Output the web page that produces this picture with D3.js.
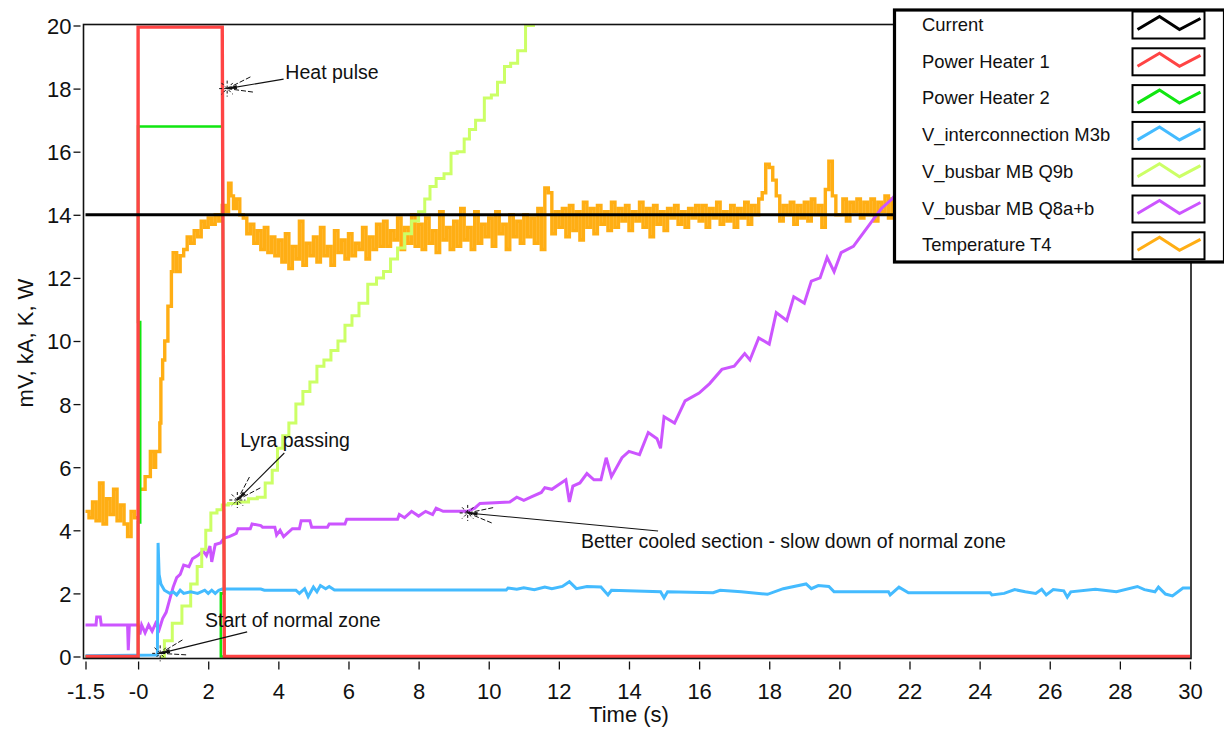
<!DOCTYPE html>
<html lang="en">
<head>
    <meta charset="UTF-8">
    <title>Heat pulse quench</title>
    <style>
        body { margin: 0; background: #fff; }
        svg { display: block; font-family: "Liberation Sans", Arial, sans-serif; }
        .note { font-size: 19.5px; fill: #111; }
        .legend text { font-size: 18.4px; fill: #111; }
    </style>
</head>
<body>
<svg id="chart"></svg>
<script src="https://d3js.org/d3.v7.min.js"></script>
<script>
    // ticks
    var xTicks = [-1.5, 0, 2, 4, 6, 8, 10, 12, 14, 16, 18, 20, 22, 24, 26, 28, 30]
    var xTickLabels = ['-1.5', '-0', '2', '4', '6', '8', '10', '12', '14', '16', '18', '20', '22', '24', '26', '28', '30']
    var yTicks = [0, 2, 4, 6, 8, 10, 12, 14, 16, 18, 20]

    var seriesNames = ['Current', 'Power Heater 1', 'Power Heater 2', 'V_interconnection M3b',
        'V_busbar MB Q9b', 'V_busbar MB Q8a+b', 'Temperature T4']
    var seriesColors = ['#000000', '#ff4444', '#11e611', '#44bbff', '#ccff66', '#cc55ff', '#ffae14']

    // [time s, value]
    var current = [[-1.5, 14], [30, 14]]
    var heater1 = [[-1.5, 0], [0, 0], [0, 19.95], [2.4, 19.95], [2.46, 0], [30, 0]]
    var heater2 = [[-1.5, 0], [0, 0], [0, 4.25], [0.06, 4.25], [0.06, 10.6], [0, 10.6], [0, 16.8],
        [2.41, 16.8], [2.454, 2.0], [2.36, 2.0], [2.36, 0], [30, 0]]
    var interconnection = [[-1.5, 0.02], [0.55, 0.05], [0.57, 3.6], [0.6, 2.6], [0.65, 2.3], [0.75, 2.1],
        [0.9, 2.0], [1.0, 2.05], [1.1, 1.95], [1.2, 2.1], [1.3, 2.0], [1.5, 2.05], [1.7, 2.0], [1.9, 2.1],
        [2.0, 2.0], [2.1, 2.1], [2.2, 2.0], [2.3, 2.1], [2.4, 2.14], [3.5, 2.14], [3.6, 2.1], [4.5, 2.1],
        [4.6, 2.0], [4.75, 2.15], [4.85, 1.9], [5.0, 2.2], [5.1, 2.05], [5.2, 2.25], [5.35, 2.15],
        [5.45, 2.22], [5.6, 2.11], [10.5, 2.11], [10.55, 2.17], [10.8, 2.13], [11.0, 2.18], [11.3, 2.12],
        [11.6, 2.2], [11.8, 2.15], [12.1, 2.22], [12.3, 2.37], [12.5, 2.15], [12.8, 2.22], [13.2, 2.2],
        [13.4, 1.95], [13.5, 2.1], [14.9, 2.05], [15.0, 1.86], [15.1, 2.05], [16.4, 2.02], [16.6, 2.1],
        [17.2, 2.05], [17.95, 1.97], [18.4, 2.15], [19.05, 2.3], [19.2, 2.15], [19.4, 2.25], [19.7, 2.22],
        [19.85, 2.05], [21.4, 2.05], [21.45, 1.95], [21.7, 2.2], [21.97, 2.02], [24.3, 2.02], [24.35, 1.95],
        [24.7, 2.0], [25.0, 2.12], [25.3, 2.05], [25.6, 2.0], [25.77, 2.13], [25.9, 1.95], [26.1, 2.12],
        [26.4, 2.08], [26.5, 1.88], [26.6, 2.05], [27.3, 2.13], [27.9, 2.05], [28.5, 2.22], [28.7, 2.12],
        [29.0, 2.05], [29.1, 2.2], [29.3, 1.98], [29.5, 1.92], [29.8, 2.17], [30, 2.17]]
    var busbarQ9b = [[0.65, 0], [0.85, 0.5], [1.1, 1.05], [1.4, 1.6], [1.6, 2.3], [1.77, 2.85], [1.86, 3.4],
        [2.0, 4.0], [2.15, 4.55], [2.35, 4.65], [2.45, 4.8], [2.7, 4.85], [3.0, 4.9], [3.3, 5.0], [3.5, 5.05],
        [3.75, 5.5], [3.9, 5.9], [4.05, 6.6], [4.2, 7.0], [4.4, 7.4], [4.6, 8.0], [4.8, 8.4], [5.0, 8.7],
        [5.2, 9.2], [5.4, 9.4], [5.6, 9.7], [5.8, 10.0], [6.0, 10.5], [6.2, 10.8], [6.4, 11.2], [6.7, 11.8],
        [6.9, 12.0], [7.1, 12.2], [7.3, 12.6], [7.5, 12.95], [7.7, 13.4], [7.9, 13.8], [8.1, 14.1],
        [8.25, 14.5], [8.4, 14.9], [8.6, 15.15], [8.85, 15.3], [9.0, 15.95], [9.2, 16.0], [9.4, 16.4],
        [9.5, 16.7], [9.75, 17.0], [10.0, 17.7], [10.15, 17.8], [10.35, 18.2], [10.55, 18.7], [10.7, 18.8],
        [10.95, 19.2], [11.15, 20.0], [11.4, 21]]
    var busbarQ8 = [[-1.5, 1.0], [-1.2, 1.0], [-1.18, 1.25], [-1.08, 1.25], [-1.05, 1.0], [-0.3, 1.0], [-0.28, 0.2],
        [-0.25, 1.0], [0.0, 1.0], [0.05, 0.7], [0.1, 1.0], [0.2, 0.75], [0.3, 1.0], [0.4, 0.8], [0.5, 1.05],
        [0.6, 0.85], [0.7, 1.2], [0.8, 1.4], [0.9, 1.8], [1.0, 2.2], [1.1, 2.5], [1.2, 2.6], [1.3, 2.9],
        [1.45, 2.85], [1.55, 3.1], [1.7, 3.2], [1.85, 3.35], [1.95, 3.2], [2.05, 3.5], [2.1, 3.0], [2.2, 3.55],
        [2.35, 3.6], [2.45, 3.75], [2.6, 3.8], [2.8, 3.9], [2.85, 4.05], [3.2, 4.05], [3.25, 4.2], [3.5, 4.15],
        [3.55, 4.1], [3.9, 4.1], [3.95, 3.85], [4.05, 4.0], [4.15, 3.8], [4.4, 4.05], [4.6, 4.05], [4.65, 4.3],
        [4.9, 4.3], [4.95, 4.1], [5.4, 4.1], [5.45, 4.2], [5.9, 4.2], [5.95, 4.35], [7.4, 4.35], [7.45, 4.5],
        [7.6, 4.4], [7.8, 4.6], [8.0, 4.45], [8.2, 4.6], [8.4, 4.5], [8.5, 4.7], [8.7, 4.6], [9.4, 4.6],
        [9.6, 4.7], [9.75, 4.85], [10.6, 4.9], [10.8, 5.05], [11.0, 4.95], [11.2, 5.05], [11.5, 5.2],
        [11.6, 5.35], [11.8, 5.3], [12.2, 5.6], [12.3, 4.9], [12.4, 5.4], [12.6, 5.5], [12.8, 5.8], [13.0, 5.6],
        [13.2, 5.6], [13.35, 6.3], [13.5, 5.7], [13.8, 6.3], [14.0, 6.5], [14.3, 6.4], [14.55, 7.1],
        [14.8, 6.9], [14.9, 6.6], [15.0, 7.6], [15.3, 7.4], [15.6, 8.1], [16.0, 8.35], [16.3, 8.65],
        [16.65, 9.1], [17.0, 9.2], [17.3, 9.6], [17.45, 9.4], [17.7, 10.1], [18.0, 9.9], [18.2, 10.9],
        [18.5, 10.65], [18.7, 11.4], [19.0, 11.2], [19.2, 11.9], [19.45, 12.0], [19.65, 12.65], [19.85, 12.2],
        [20.05, 12.8], [20.4, 13.0], [20.6, 13.3], [21.0, 13.9], [21.2, 14.2], [21.5, 14.5], [23, 16.5],
        [25.5, 20]]
    // temperature: before trigger every 0.1 s from -1.5, rise as pairs, then every 0.1 s from 3.0
    var tempPreStart = -1.5
    var tempPre = [4.6, 4.4, 4.9, 4.3, 5.5, 4.2, 5.0, 4.5, 5.3, 4.3, 4.8, 4.2, 3.8, 4.6, 4.4, 4.4]
    var tempRise = [[0.02, 5.3], [0.2, 5.7], [0.35, 6.5], [0.45, 6.0], [0.5, 6.5], [0.62, 7.4], [0.65, 8.8],
        [0.7, 9.4], [0.76, 10.0], [0.85, 11.1], [0.95, 12.2], [1.0, 12.8], [1.1, 12.2], [1.2, 12.7],
        [1.3, 12.9], [1.4, 13.3], [1.5, 13.1], [1.6, 13.5], [1.7, 13.3], [1.8, 13.8], [1.9, 13.6],
        [2.0, 13.9], [2.1, 13.7], [2.2, 14.0], [2.3, 13.8], [2.4, 14.3], [2.5, 14.1], [2.58, 15.0],
        [2.65, 14.6], [2.72, 14.2], [2.8, 14.5], [2.9, 14.0]]
    var tempNoiseStart = 3.0
    var tempNoise = [
        13.9, 13.4, 13.7, 13.1, 13.5, 12.9, 13.6, 12.8, 13.3, 12.7,
        13.2, 12.5, 13.4, 12.3, 13.0, 12.6, 13.8, 12.4, 13.1, 12.7,
        13.3, 12.5, 13.6, 12.7, 13.0, 12.4, 13.5, 12.8, 13.2, 12.6,
        13.4, 12.7, 13.1, 12.9, 13.6, 12.6, 13.3, 12.9, 13.7, 13.0,
        13.8, 13.0, 13.5, 13.2, 13.9, 12.9, 13.6, 13.1, 14.0, 13.0,
        13.7, 12.9, 13.9, 13.1, 13.5, 12.8, 14.1, 13.2, 13.6, 12.9,
        13.8, 13.0, 14.2, 13.2, 13.6, 12.9, 14.1, 13.1, 13.7, 13.3,
        13.9, 13.0, 14.1, 13.4, 13.7, 12.9, 14.0, 13.3, 13.8, 13.1,
        14.0, 13.3, 13.9, 13.1, 14.2, 12.9, 14.85, 14.7, 13.4, 14.1,
        13.6, 14.2, 13.3, 14.3, 13.5, 14.1, 13.2, 14.4, 13.6, 14.2,
        13.4, 14.3, 13.7, 14.1, 13.5, 14.4, 13.6, 14.2, 13.8, 14.3,
        13.5, 14.1, 13.8, 14.4, 13.6, 14.2, 13.3, 14.3, 13.7, 14.1,
        13.5, 14.2, 13.9, 14.3, 13.7, 14.1, 13.6, 14.2, 13.9, 14.3,
        13.8, 14.3, 13.6, 14.2, 13.9, 14.4, 13.7, 14.1, 13.8, 14.3,
        13.6, 14.2, 13.9, 14.4, 13.7, 14.3, 14.0, 14.5, 14.7, 15.6,
        15.5, 15.1, 14.6, 13.8, 14.3, 14.0, 14.4, 13.7, 14.3, 13.9,
        14.4, 13.8, 14.5, 14.0, 14.3, 13.6, 14.8, 15.7, 14.6, 14.0,
        14.0, 14.5, 13.8, 14.4, 14.1, 14.5, 13.9, 14.4, 14.0, 14.5,
        13.8, 14.4, 14.1, 14.6, 13.9, 14.5, 14.2, 14.4, 13.6, 14.5,
        14.2]

    // annotations: marked point, end of leader line, text position (all in data units)
    var notes = [
        {text: 'Heat pulse', at: [2.54, 18.0], end: [4.15, 18.3], pos: [4.2, 18.3]},
        {text: 'Lyra passing', at: [2.83, 4.96], end: [4.17, 6.45], pos: [2.91, 6.64]},
        {text: 'Start of normal zone', at: [0.63, 0.1], end: [3.11, 0.78], pos: [1.91, 0.94]},
        {text: 'Better cooled section - slow down of normal zone', at: [9.4, 4.55], end: [14.83, 3.98], pos: [12.63, 3.44]}
    ]

    var svgWidth = 1224, svgHeight = 730
    var svg = d3.select('#chart').attr('width', svgWidth).attr('height', svgHeight)
    svg.append('rect').attr('width', svgWidth).attr('height', svgHeight).attr('fill', '#fff')

    var x = d3.scaleLinear().domain([-1.5, 30]).range([85.5, 1190])
    var y = d3.scaleLinear().domain([0, 20]).range([656.5, 25.5])
    var frame = {left: 83.5, right: 1191, top: 24.5, bottom: 658.5}

    svg.append('clipPath').attr('id', 'plotClip').append('rect')
        .attr('x', frame.left).attr('y', frame.top)
        .attr('width', frame.right - frame.left).attr('height', frame.bottom - frame.top)

    // axes
    var xAxis = svg.append('g')
        .attr('transform', 'translate(0,' + (frame.bottom + 3) + ')')
        .call(d3.axisBottom(x).tickValues(xTicks).tickSize(8).tickPadding(14)
            .tickFormat(function (d, i) { return xTickLabels[i] }))
    var yAxis = svg.append('g')
        .attr('transform', 'translate(' + (frame.left - 3) + ',0)')
        .call(d3.axisLeft(y).tickValues(yTicks).tickSize(7).tickPadding(2))
    ;[xAxis, yAxis].forEach(function (g) {
        g.select('.domain').remove()
        g.selectAll('.tick line').attr('stroke', '#111').attr('stroke-width', 1.3)
        g.selectAll('.tick text').attr('font-size', 22).attr('fill', '#111')
            .attr('font-family', '"Liberation Sans", Arial, sans-serif')
    })
    xAxis.selectAll('.tick text').attr('dy', '0.71em')
    yAxis.selectAll('.tick text').attr('dy', '0.36em')

    svg.append('text').attr('x', 629).attr('y', 722).attr('text-anchor', 'middle')
        .attr('font-size', 22).attr('fill', '#111').text('Time (s)')
    svg.append('text').attr('transform', 'translate(33,343) rotate(-90)').attr('text-anchor', 'middle')
        .attr('font-size', 22).attr('fill', '#111').text('mV, kA, K, W')

    // series
    var temperature = tempPre.map(function (v, i) { return [tempPreStart + i * 0.1, v] })
        .concat(tempRise)
        .concat(tempNoise.map(function (v, i) { return [tempNoiseStart + i * 0.1, v] }))

    var plots = [
        {data: temperature, color: seriesColors[6], curve: d3.curveStepAfter, w: 3.4},
        {data: busbarQ8, color: seriesColors[5], curve: d3.curveLinear, w: 3},
        {data: busbarQ9b, color: seriesColors[4], curve: d3.curveStep, w: 3},
        {data: interconnection, color: seriesColors[3], curve: d3.curveLinear, w: 3},
        {data: heater2, color: seriesColors[2], curve: d3.curveLinear, w: 2.6},
        {data: heater1, color: seriesColors[1], curve: d3.curveLinear, w: 3.4},
        {data: current, color: seriesColors[0], curve: d3.curveLinear, w: 3}
    ]
    var plotG = svg.append('g').attr('clip-path', 'url(#plotClip)')
    plots.forEach(function (p) {
        var line = d3.line().x(function (d) { return x(d[0]) }).y(function (d) { return y(d[1]) }).curve(p.curve)
        plotG.append('path').attr('d', line(p.data)).attr('fill', 'none')
            .attr('stroke', p.color).attr('stroke-width', p.w).attr('stroke-linejoin', 'miter')
    })

    // frame
    svg.append('rect').attr('x', frame.left).attr('y', frame.top)
        .attr('width', frame.right - frame.left).attr('height', frame.bottom - frame.top)
        .attr('fill', 'none').attr('stroke', '#111').attr('stroke-width', 1.6)

    // annotations
    var noteG = svg.append('g')
    notes.forEach(function (n) {
        var px = x(n.at[0]), py = y(n.at[1]), ex = x(n.end[0]), ey = y(n.end[1])
        var ang = Math.atan2(ey - py, ex - px)
        noteG.append('line').attr('x1', px).attr('y1', py).attr('x2', ex).attr('y2', ey)
            .attr('stroke', '#111').attr('stroke-width', 1.1)
        ;[-0.3, 0.3].forEach(function (a) {
            noteG.append('line').attr('x1', px).attr('y1', py)
                .attr('x2', px + 26 * Math.cos(ang + a)).attr('y2', py + 26 * Math.sin(ang + a))
                .attr('stroke', '#111').attr('stroke-width', 1).attr('stroke-dasharray', '5,2')
        })
        noteG.append('path')
            .attr('d', 'M' + px + ',' + py +
                'L' + (px + 10 * Math.cos(ang + 0.2)) + ',' + (py + 10 * Math.sin(ang + 0.2)) +
                'L' + (px + 10 * Math.cos(ang - 0.2)) + ',' + (py + 10 * Math.sin(ang - 0.2)) + 'Z')
            .attr('fill', '#111')
        // asterisk marker
        for (var k = 0; k < 4; k++) {
            var a = k * Math.PI / 4
            noteG.append('line')
                .attr('x1', px - 8 * Math.cos(a)).attr('y1', py - 8 * Math.sin(a))
                .attr('x2', px + 8 * Math.cos(a)).attr('y2', py + 8 * Math.sin(a))
                .attr('stroke', '#111').attr('stroke-width', 1).attr('stroke-dasharray', '3,2')
        }
        noteG.append('text').attr('class', 'note').attr('x', x(n.pos[0])).attr('y', y(n.pos[1]))
            .text(n.text)
    })

    // legend
    var lg = svg.append('g').attr('class', 'legend')
    lg.append('rect').attr('x', 894.5).attr('y', 10).attr('width', 330).attr('height', 252)
        .attr('fill', '#fff').attr('stroke', '#000').attr('stroke-width', 3.2)
    seriesNames.forEach(function (name, i) {
        var ty = 31 + i * 36.7
        lg.append('text').attr('x', 922).attr('y', ty).text(name)
        var bx = 1132.5, by = 11.5 + i * 36.8
        lg.append('rect').attr('x', bx).attr('y', by).attr('width', 72).attr('height', 27)
            .attr('fill', '#fff').attr('stroke', '#000').attr('stroke-width', 2)
        lg.append('path')
            .attr('d', 'M' + (bx + 5) + ',' + (by + 18) + 'L' + (bx + 27) + ',' + (by + 5) +
                'L' + (bx + 47) + ',' + (by + 18) + 'L' + (bx + 68) + ',' + (by + 7))
            .attr('fill', 'none').attr('stroke', seriesColors[i]).attr('stroke-width', 3)
    })
</script>
</body>
</html>
